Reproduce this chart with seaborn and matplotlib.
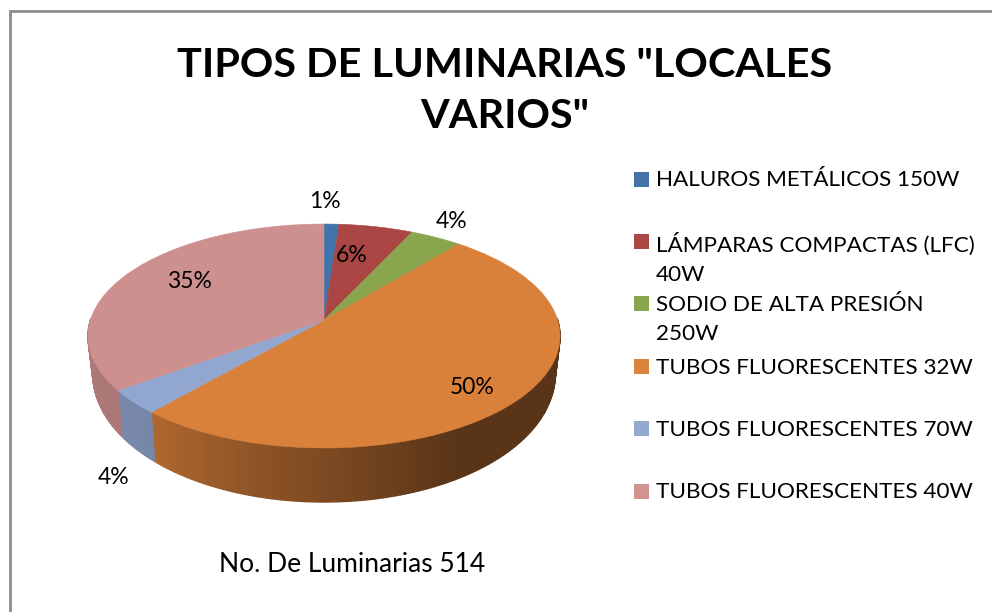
import numpy as np
import seaborn as sns
import matplotlib.pyplot as plt
from matplotlib.colors import to_rgb
from matplotlib.patches import Rectangle
from matplotlib.transforms import Transform

# Datos del grafico
categorias = ['HALUROS METÁLICOS 150W', 'LÁMPARAS COMPACTAS (LFC)\n40W',
              'SODIO DE ALTA PRESIÓN\n250W', 'TUBOS FLUORESCENTES 32W',
              'TUBOS FLUORESCENTES 70W', 'TUBOS FLUORESCENTES 40W']
luminarias = [6, 30, 21, 259, 18, 180]
titulo = 'TIPOS DE LUMINARIAS "LOCALES\nVARIOS"'
pie_texto = 'No. De Luminarias 514'
colores = ['#3f74ad', '#aa4643', '#89a54e', '#d9803a', '#92a7cf', '#ce8f8f']
colores_leyenda = ['#4572a7', '#aa4643', '#89a54e', '#db843d', '#93a9cf', '#d19392']

# Posicion de las etiquetas de porcentaje (pixeles)
pos_etiquetas = [(325, 202), (352, 256), (452, 221), (472, 388), (114, 477), (189, 281)]

# Parametros de la perspectiva del disco
CX, CY = 324, 320
RX, RY, P = 233.6, 109.7, 0.1429


class Disco(Transform):
    # lleva el circulo unidad al disco visto en perspectiva
    input_dims = 2
    output_dims = 2

    def transform_non_affine(self, xy):
        xy = np.asarray(xy, dtype=float)
        w = 1 + P * xy[:, 1]
        return np.column_stack([CX + RX * xy[:, 0] / w, CY - RY * xy[:, 1] / w])


def borde_inferior(x, y):
    w = 1 + P * y
    return CX + 0.98 * RX * x / w, CY - RY * y / w + 34.6 - 19.4 * y


sns.set_theme(style='white')
plt.rcParams['font.family'] = ['Lato', 'DejaVu Sans']

fig = plt.figure(figsize=(9.92, 6.12), dpi=100)
ax = fig.add_axes([0, 0, 1, 1])

# Cara superior con ax.pie y luego se le aplica la perspectiva
wedges, _ = ax.pie(luminarias, colors=sns.color_palette(colores), startangle=90, counterclock=False,
                   wedgeprops={'linewidth': 0.4, 'zorder': 3})
disco = Disco() + ax.transData
for w, c in zip(wedges, colores):
    w.set_edgecolor(c)
    w.set_transform(disco)
    w.set_clip_on(False)

# Pared lateral, sombreada segun el angulo
total = sum(luminarias)
acum = np.concatenate([[0], np.cumsum(luminarias)]) / total * 360
for i in range(len(luminarias)):
    ang = np.linspace(acum[i], acum[i + 1], max(4, int(acum[i + 1] - acum[i]) + 1))
    for a0, a1 in zip(ang[:-1], ang[1:]):
        xs0, ys0 = np.sin(np.radians(a0)), np.cos(np.radians(a0))
        xs1, ys1 = np.sin(np.radians(a1)), np.cos(np.radians(a1))
        # la parte de atras no se ve
        if ys0 > 0 and ys1 > 0:
            continue
        top = Disco().transform_non_affine(np.array([[xs0, ys0], [xs1, ys1]]))
        b0 = borde_inferior(xs0, ys0)
        b1 = borde_inferior(xs1, ys1)
        f = np.interp((a0 + a1) / 2, [100, 150, 190, 220, 235, 270], [.41, .41, .63, .80, .83, .855])
        c = np.array(to_rgb(colores[i])) * f
        ax.fill([top[0, 0], top[1, 0], b1[0], b0[0]], [top[0, 1], top[1, 1], b1[1], b0[1]],
                color=c, lw=1.0, zorder=2)

ax.set_aspect('auto')
ax.set_xlim(0, 992)
ax.set_ylim(612, 0)
ax.axis('off')

# Marco del grafico
ax.plot([10, 10, 992], [612, 10.5, 10.5], color='#8c8c8c', lw=2, solid_joinstyle='miter', zorder=1)

# Titulo y texto inferior
ax.text(505, 91, titulo, ha='center', va='center', fontsize=29.8, fontweight='bold',
        color='black', linespacing=1.48)
ax.text(352, 565, pie_texto, ha='center', va='center', fontsize=19, color='black')

# Etiquetas de porcentaje
for n, (x, y) in zip(luminarias, pos_etiquetas):
    ax.text(x, y, f'{n / total * 100:.0f}%', ha='center', va='center', fontsize=16.5, color='black', zorder=5)

# Leyenda
for i, cat in enumerate(categorias):
    y = 179 + 62.4 * i
    ax.add_patch(Rectangle((634, y - 7.5), 15, 15, color=colores_leyenda[i], lw=0))
    ax.text(656, y - 8.5, cat, ha='left', va='top', fontsize=16.2, color='black', linespacing=1.55)

fig.savefig('out.png', dpi=100)
